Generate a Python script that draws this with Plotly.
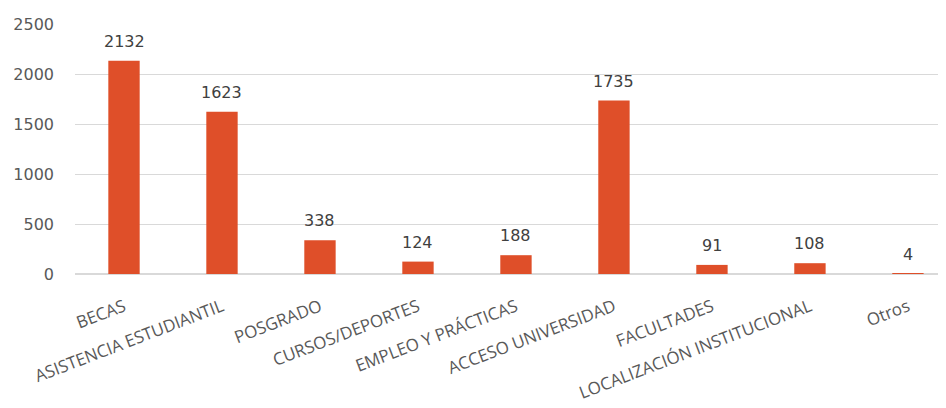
import plotly.graph_objects as go

categories = ["BECAS", "ASISTENCIA ESTUDIANTIL", "POSGRADO", "CURSOS/DEPORTES",
              "EMPLEO Y PRÁCTICAS", "ACCESO UNIVERSIDAD", "FACULTADES",
              "LOCALIZACIÓN INSTITUCIONAL", "Otros"]
values = [2132, 1623, 338, 124, 188, 1735, 91, 108, 4]
y_ticks = [0, 500, 1000, 1500, 2000, 2500]

fig = go.Figure(go.Bar(
    x=categories, y=values,
    marker=dict(color="#DF4F29", line=dict(width=0)),
))

for c, v in zip(categories, values):
    fig.add_annotation(x=c, y=v, text=str(v), showarrow=False,
                       yanchor="bottom", yshift=8,
                       font=dict(size=16, color="#404040", family="DejaVu Sans"))

fig.update_layout(
    width=946, height=408,
    margin=dict(l=67, r=0, t=16, b=142),
    paper_bgcolor="white", plot_bgcolor="white",
    bargap=0.68,
    showlegend=False,
    font=dict(family="Open Sans", color="#595959", size=15),
    xaxis=dict(range=[-0.5, 8.47], tickangle=-21, showgrid=False, automargin=False,
               ticks="", showline=False, ticklabelstandoff=19,
               tickfont=dict(size=17, color="#595959", family="Open Sans")),
    yaxis=dict(range=[0, 2500], tickvals=y_ticks, gridcolor="#D9D9D9",
               gridwidth=1, zeroline=True, zerolinecolor="#D9D9D9",
               ticks="", ticklabelstandoff=20, automargin=False,
               tickfont=dict(size=16, color="#595959", family="DejaVu Sans")),
)

fig.write_html("out.html")
